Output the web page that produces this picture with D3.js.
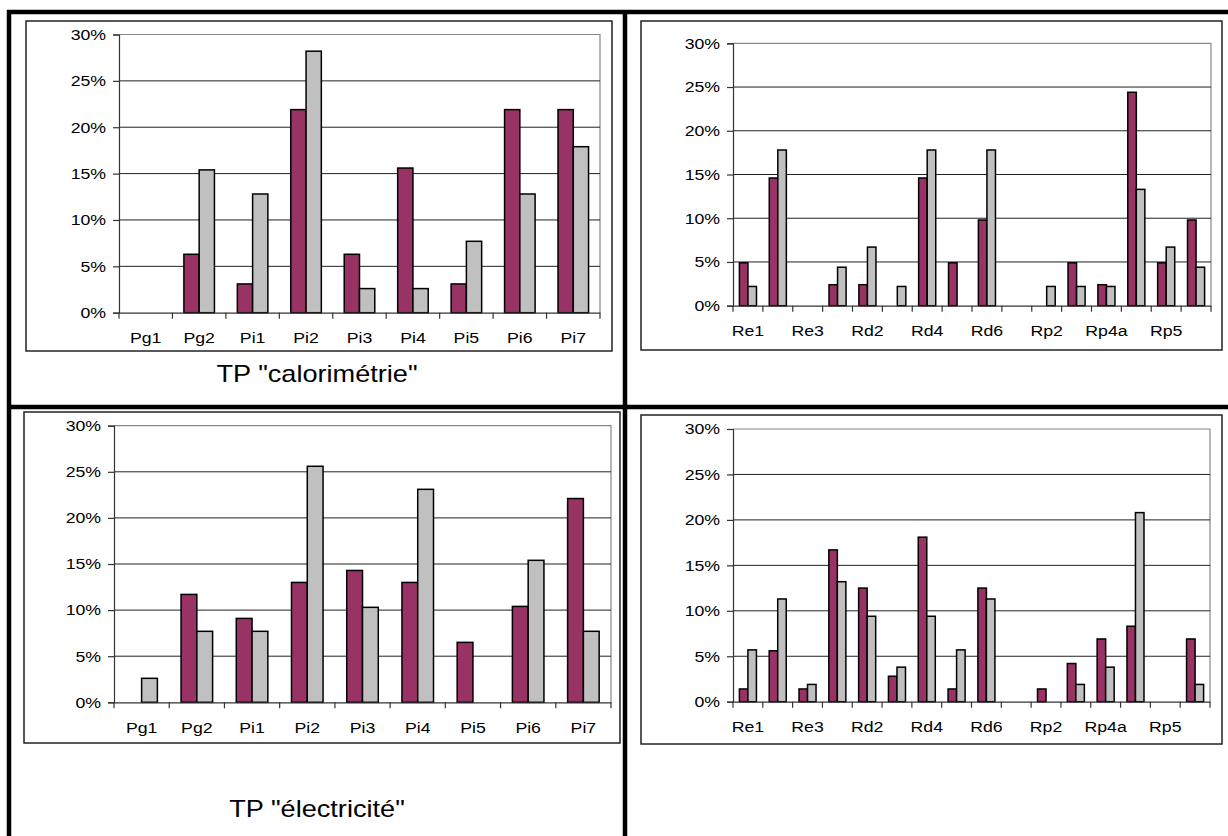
<!DOCTYPE html>
<html>
<head>
<meta charset="utf-8">
<script src="https://cdn.jsdelivr.net/npm/d3@7"></script>
<style>
  body { margin: 0; background: #fff; }
  svg { display: block; font-family: "Liberation Sans", Arial, sans-serif; }
</style>
</head>
<body>
<svg id="chart" width="1228" height="836"></svg>
<script>
// categories
const catsP = ["Pg1", "Pg2", "Pi1", "Pi2", "Pi3", "Pi4", "Pi5", "Pi6", "Pi7"];
const catsR = ["Re1", "Re2", "Re3", "Rd1", "Rd2", "Rd3", "Rd4", "Rd5", "Rd6",
               "Rp1", "Rp2", "Rp3", "Rp4a", "Rp4b", "Rp5", "Rp6"];
const labelsR = ["Re1", "Re3", "Rd2", "Rd4", "Rd6", "Rp2", "Rp4a", "Rp5"];
const yTicks = [0, 0.05, 0.10, 0.15, 0.20, 0.25, 0.30];

// TP "calorimétrie" (values in %)
const caloP_purple = [0, 6.3, 3.1, 21.9, 6.3, 15.6, 3.1, 21.9, 21.9];
const caloP_gray   = [0, 15.4, 12.8, 28.2, 2.6, 2.6, 7.7, 12.8, 17.9];
const caloR_purple = [4.9, 14.6, 0, 2.4, 2.4, 0, 14.6, 4.9, 9.8, 0, 0, 4.9, 2.4, 24.4, 4.9, 9.8];
const caloR_gray   = [2.2, 17.8, 0, 4.4, 6.7, 2.2, 17.8, 0, 17.8, 0, 2.2, 2.2, 2.2, 13.3, 6.7, 4.4];

// TP "électricité"
const elecP_purple = [0, 11.7, 9.1, 13.0, 14.3, 13.0, 6.5, 10.4, 22.1];
const elecP_gray   = [2.6, 7.7, 7.7, 25.6, 10.3, 23.1, 0, 15.4, 7.7];
const elecR_purple = [1.4, 5.6, 1.4, 16.7, 12.5, 2.8, 18.1, 1.4, 12.5, 0, 1.4, 4.2, 6.9, 8.3, 0, 6.9];
const elecR_gray   = [5.7, 11.3, 1.9, 13.2, 9.4, 3.8, 9.4, 5.7, 11.3, 0, 0, 1.9, 3.8, 20.8, 0, 1.9];

const svg = d3.select("#chart");
const purple = "#993366", gray = "#c0c0c0";
const stretch = 1.18; // text in the scan is a bit wider than plain Arial

function drawPanel(cfg) {
  const g = svg.append("g");
  // chart area box
  g.append("rect")
    .attr("x", cfg.box[0]).attr("y", cfg.box[1])
    .attr("width", cfg.box[2] - cfg.box[0]).attr("height", cfg.box[3] - cfg.box[1])
    .attr("fill", "#fff").attr("stroke", "#222").attr("stroke-width", 1.5);

  const [l, t, r, b] = cfg.plot;
  const x0 = d3.scaleBand().domain(cfg.cats).range([l, r]).padding(0);
  // excel gap width 150%
  const x1 = d3.scaleBand().domain([0, 1]).range([0, x0.bandwidth()])
    .paddingInner(0).paddingOuter(0.75);
  const y = d3.scaleLinear().domain([0, 0.30]).range([b, t]);

  // plot border (top/right) and gridlines
  g.append("path")
    .attr("d", `M${l},${t}H${r}V${b}`)
    .attr("fill", "none").attr("stroke", "#888").attr("stroke-width", 1.2);
  g.append("g").selectAll("line")
    .data(yTicks.filter(v => v > 0 && v < 0.30))
    .enter().append("line")
    .attr("x1", l).attr("x2", r)
    .attr("y1", d => y(d)).attr("y2", d => y(d))
    .attr("stroke", "#222").attr("stroke-width", 1);

  // bars
  const rows = cfg.cats.map((c, i) => ({ c: c, vals: [cfg.a[i], cfg.b[i]] }));
  g.append("g").selectAll("g")
    .data(rows).enter().append("g")
    .attr("transform", d => `translate(${x0(d.c)},0)`)
    .selectAll("rect")
    .data(d => d.vals.map((v, k) => ({ k: k, v: v / 100 })).filter(e => e.v > 0))
    .enter().append("rect")
    .attr("x", d => x1(d.k))
    .attr("width", x1.bandwidth())
    .attr("y", d => y(d.v))
    .attr("height", d => b - y(d.v))
    .attr("fill", d => d.k === 0 ? purple : gray)
    .attr("stroke", "#000").attr("stroke-width", 1.5);

  // y axis
  const yAxis = g.append("g")
    .attr("transform", `translate(${l},0)`)
    .call(d3.axisLeft(y).tickValues(yTicks).tickFormat(d3.format(".0%")).tickSize(6).tickPadding(5));
  yAxis.selectAll("path, line").attr("stroke", "#333").attr("stroke-width", 1.2);
  yAxis.selectAll("text").attr("font-size", 15).attr("fill", "#000")
    .attr("font-family", "'Liberation Sans', Arial, sans-serif")
    .attr("transform", `scale(${stretch},1)`);

  // x axis: labels at centers, ticks at category boundaries
  const xAxis = g.append("g")
    .attr("transform", `translate(0,${b})`)
    .call(d3.axisBottom(x0).tickValues(cfg.labels).tickSize(0).tickPadding(20));
  xAxis.select(".domain").attr("stroke", "#333").attr("stroke-width", 1.2);
  xAxis.selectAll("text").attr("font-size", 15).attr("fill", "#000")
    .attr("font-family", "'Liberation Sans', Arial, sans-serif")
    .attr("transform", `scale(${stretch},1)`);
  const bounds = cfg.cats.map(c => x0(c)).concat([r]);
  g.append("g").selectAll("line")
    .data(bounds).enter().append("line")
    .attr("x1", d => d).attr("x2", d => d)
    .attr("y1", b).attr("y2", b + 6)
    .attr("stroke", "#333").attr("stroke-width", 1.2);

  if (cfg.title) {
    g.append("text")
      .attr("transform", `translate(${cfg.title[1]},${cfg.title[2]}) scale(${stretch},1)`)
      .attr("text-anchor", "middle")
      .attr("font-size", 23).attr("fill", "#000")
      .text(cfg.title[0]);
  }
}

drawPanel({ box: [26, 21, 612, 351], plot: [119, 34.5, 600, 312.7],
  cats: catsP, labels: catsP, a: caloP_purple, b: caloP_gray,
  title: ["TP \"calorimétrie\"", 317, 382] });
drawPanel({ box: [641, 21, 1222, 350], plot: [733, 43.3, 1211, 305.7],
  cats: catsR, labels: labelsR, a: caloR_purple, b: caloR_gray });
drawPanel({ box: [24, 412, 620, 743], plot: [114, 425.7, 611, 702.3],
  cats: catsP, labels: catsP, a: elecP_purple, b: elecP_gray,
  title: ["TP \"électricité\"", 317, 817] });
drawPanel({ box: [641, 415, 1222, 744], plot: [733, 429, 1210, 701.7],
  cats: catsR, labels: labelsR, a: elecR_purple, b: elecR_gray });

// thick table borders
const borders = [
  [7, 12, 1228, 12],
  [9, 10, 9, 836],
  [625, 10, 625, 836],
  [7, 407, 1228, 407]
];
svg.append("g").selectAll("line")
  .data(borders).enter().append("line")
  .attr("x1", d => d[0]).attr("y1", d => d[1])
  .attr("x2", d => d[2]).attr("y2", d => d[3])
  .attr("stroke", "#000").attr("stroke-width", 4.5);
</script>
</body>
</html>
